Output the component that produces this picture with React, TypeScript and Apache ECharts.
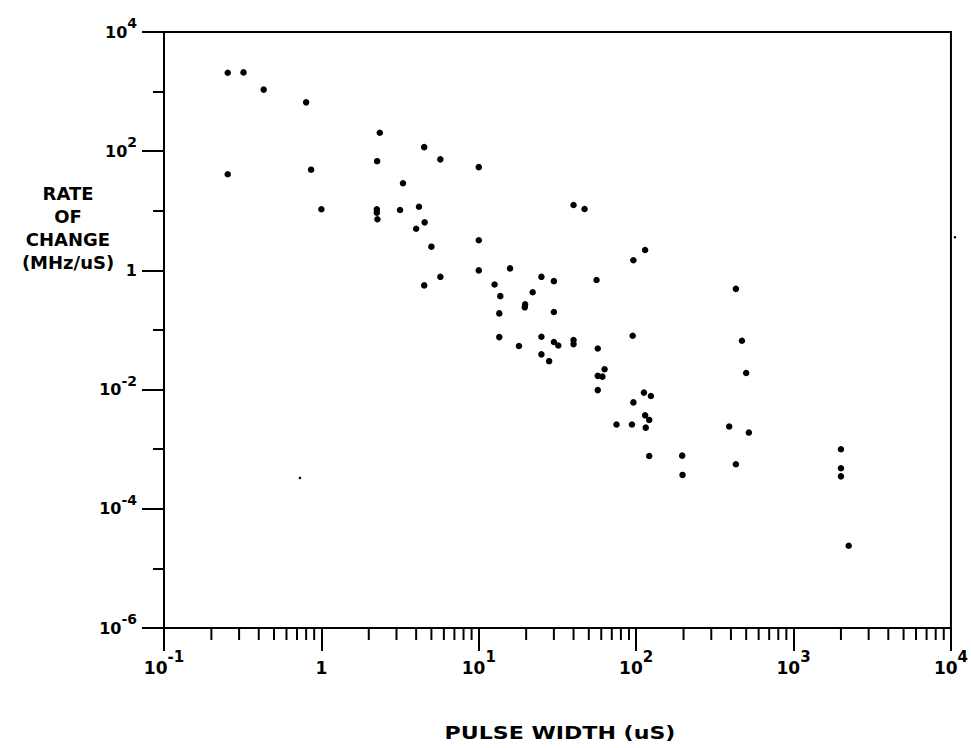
import React, { useEffect, useRef } from "react";
import * as echarts from "echarts";

// Pulse width (uS) and rate of change (MHz/uS)
const pulseWidth = [
  0.254, 0.32, 0.43, 0.8, 2.35, 4.5, 5.7, 2.26, 0.254, 0.86,
  3.3, 1.0, 2.25, 2.25, 2.27, 3.16, 4.17, 4.53, 4.0, 5.0,
  10, 10, 15.8, 5.7, 4.5, 12.6, 13.7, 25, 30, 56,
  22, 19.7, 19.6, 30, 13.5, 13.5, 18, 25, 25, 30,
  32, 40, 40, 28, 57, 95, 63, 57, 61, 57,
  112, 124, 96, 114, 121, 115, 75, 94, 121, 196,
  197, 40, 47, 114, 96, 430, 470, 500, 390, 520,
  430, 2000, 2000, 2000, 2240, 10,
];
const rateOfChange = [
  2070, 2100, 1080, 660, 204, 117, 73, 68, 41, 49,
  29, 10.6, 10.6, 9.3, 7.2, 10.3, 11.7, 6.4, 5.0, 2.5,
  3.2, 1.0, 1.08, 0.78, 0.56, 0.58, 0.37, 0.78, 0.66, 0.69,
  0.43, 0.27, 0.24, 0.2, 0.19, 0.076, 0.054, 0.077, 0.039, 0.063,
  0.055, 0.068, 0.058, 0.03, 0.049, 0.08, 0.022, 0.017, 0.0165, 0.0098,
  0.0089, 0.0078, 0.0061, 0.0037, 0.0031, 0.0023, 0.0026, 0.0026, 0.00077, 0.00078,
  0.00037, 12.5, 10.7, 2.2, 1.48, 0.49, 0.066, 0.019, 0.0024, 0.0019,
  0.00056, 0.001, 0.00048, 0.00035, 0.000024, 54,
];
// stray specks visible in the reference
const speckX = [0.73, 10600];
const speckY = [0.00033, 3.6];

// axis structure (decade exponents)
const xMinExp = -1;
const xMaxExp = 4;
const yMinExp = -6;
const yMaxExp = 4;
const minorDecades = [-1, 0, 1, 2, 3];
const minorMultipliers = [2, 3, 4, 5, 6, 7, 8, 9];

const FONT = '"DejaVu Sans", "Liberation Sans", sans-serif';

function expLabel(v: number): string {
  const e = Math.round(v);
  if (e === 0) return "{b|1}";
  return "{b|10}{s|" + e + "}";
}

const richY = {
  b: {
    fontFamily: FONT,
    fontWeight: "bold",
    fontSize: 16,
    lineHeight: 32,
    color: "#000",
  },
  s: {
    fontFamily: FONT,
    fontWeight: "bold",
    fontSize: 14,
    lineHeight: 14,
    padding: [0, 0, 18, 0],
    color: "#000",
  },
};

const richX = {
  b: {
    fontFamily: FONT,
    fontWeight: "bold",
    fontSize: 17,
    lineHeight: 37,
    color: "#000",
  },
  s: {
    fontFamily: FONT,
    fontWeight: "bold",
    fontSize: 15,
    lineHeight: 15,
    padding: [0, 0, 22, 0],
    color: "#000",
  },
};

export default function App() {
  const ref = useRef<HTMLDivElement>(null);

  useEffect(() => {
    if (!ref.current) return;
    const chart = echarts.init(ref.current, undefined, { renderer: "svg" });

    const points = pulseWidth.map((x, i) => [Math.log10(x), Math.log10(rateOfChange[i])]);
    const specks = speckX.map((x, i) => [Math.log10(x), Math.log10(speckY[i])]);
    const minorTicks: number[][] = [];
    minorDecades.forEach((d) => {
      minorMultipliers.forEach((m) => {
        minorTicks.push([Math.log10(m * Math.pow(10, d)), yMinExp]);
      });
    });

    const black = "#000";

    chart.setOption({
      animation: false,
      backgroundColor: "#fff",
      grid: {
        left: 164,
        top: 32,
        width: 787,
        height: 596,
        show: true,
        borderColor: black,
        borderWidth: 2,
        backgroundColor: "transparent",
      },
      xAxis: {
        type: "value",
        min: xMinExp,
        max: xMaxExp,
        interval: 1,
        position: "bottom",
        axisLine: { show: true, onZero: false, lineStyle: { color: black, width: 2 } },
        axisTick: { show: true, length: 23, lineStyle: { color: black, width: 2 } },
        axisLabel: {
          margin: 21,
          showMinLabel: true,
          showMaxLabel: true,
          formatter: expLabel,
          rich: richX,
        },
        splitLine: { show: false },
      },
      yAxis: [
        {
          type: "value",
          min: yMinExp,
          max: yMaxExp,
          interval: 2,
          position: "left",
          axisLine: { show: true, onZero: false, lineStyle: { color: black, width: 2 } },
          axisTick: { show: true, length: 22, lineStyle: { color: black, width: 2 } },
          axisLabel: {
            margin: 27,
            showMinLabel: true,
            showMaxLabel: true,
            formatter: expLabel,
            rich: richY,
          },
          splitLine: { show: false },
        },
        {
          type: "value",
          min: yMinExp,
          max: yMaxExp,
          interval: 1,
          position: "left",
          axisLine: { show: false, onZero: false },
          axisTick: { show: true, length: 11, lineStyle: { color: black, width: 2 } },
          axisLabel: { show: false },
          splitLine: { show: false },
        },
      ],
      series: [
        {
          type: "scatter",
          xAxisIndex: 0,
          yAxisIndex: 0,
          symbol: "circle",
          symbolSize: 6.5,
          itemStyle: { color: black, opacity: 1 },
          data: points,
        },
        {
          type: "scatter",
          xAxisIndex: 0,
          yAxisIndex: 0,
          symbol: "circle",
          symbolSize: 2.5,
          clip: false,
          itemStyle: { color: black, opacity: 1 },
          data: specks,
        },
        {
          type: "custom",
          xAxisIndex: 0,
          yAxisIndex: 0,
          silent: true,
          clip: false,
          data: minorTicks,
          renderItem: (_params: any, api: any) => {
            const p = api.coord([api.value(0), api.value(1)]);
            return {
              type: "line",
              shape: { x1: p[0], y1: p[1], x2: p[0], y2: p[1] + 12 },
              style: { stroke: black, lineWidth: 2 },
            };
          },
        },
      ],
      graphic: [
        {
          type: "text",
          x: 68,
          y: 182,
          style: {
            text: "RATE\nOF\nCHANGE\n(MHz/uS)",
            fontFamily: FONT,
            fontWeight: "bold",
            fontSize: 18,
            lineHeight: 23,
            align: "center",
            verticalAlign: "top",
            fill: black,
          },
        },
        {
          type: "text",
          x: 560,
          y: 733,
          scaleX: 1.3,
          style: {
            text: "PULSE WIDTH (uS)",
            fontFamily: FONT,
            fontWeight: "bold",
            fontSize: 17,
            align: "center",
            verticalAlign: "middle",
            fill: black,
          },
        },
      ],
    });

    return () => {
      chart.dispose();
    };
  }, []);

  return (
    <div
      ref={ref}
      style={{ position: "fixed", left: 0, top: 0, width: 971, height: 748, background: "#fff" }}
    />
  );
}
